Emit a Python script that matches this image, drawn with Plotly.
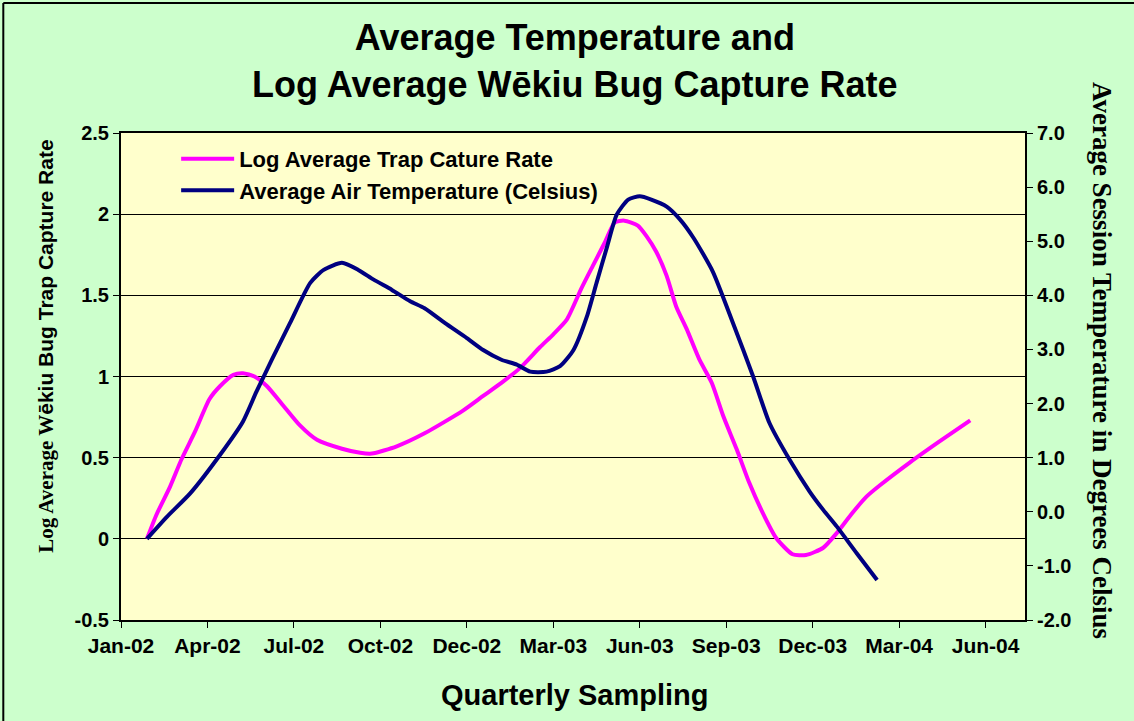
import plotly.graph_objects as go

# ---------------- data ----------------
trap_dates = [
    "2002-01-31", "2002-02-10", "2002-02-24", "2002-03-08", "2002-03-22", "2002-04-06",
    "2002-04-17", "2002-05-01", "2002-05-11", "2002-05-23", "2002-06-05", "2002-06-22",
    "2002-07-09", "2002-07-27", "2002-08-22", "2002-09-10", "2002-09-22", "2002-10-18",
    "2002-11-16", "2002-12-26", "2003-01-16", "2003-02-06", "2003-02-23", "2003-03-16",
    "2003-03-30", "2003-04-13", "2003-04-28", "2003-05-10", "2003-05-23", "2003-06-02",
    "2003-06-12", "2003-06-26", "2003-07-05", "2003-07-15", "2003-07-26", "2003-08-05",
    "2003-08-16", "2003-08-29", "2003-09-11", "2003-09-23", "2003-10-07", "2003-10-20",
    "2003-11-03", "2003-11-17", "2003-12-04", "2003-12-18", "2004-01-05", "2004-01-19",
    "2004-02-03", "2004-02-19", "2004-03-04", "2004-04-04", "2004-05-05", "2004-06-06",
]
trap_values = [
    0.00, 0.15, 0.32, 0.49, 0.66, 0.86,
    0.94, 1.01, 1.02, 1.00, 0.94, 0.82,
    0.70, 0.61, 0.555, 0.53, 0.525, 0.57,
    0.65, 0.79, 0.88, 0.97, 1.05, 1.18,
    1.26, 1.35, 1.54, 1.68, 1.83, 1.95,
    1.96, 1.93, 1.865, 1.77, 1.62, 1.43,
    1.29, 1.105, 0.96, 0.755, 0.55, 0.345,
    0.16, 0.005, -0.095, -0.10, -0.055, 0.035,
    0.15, 0.26, 0.33, 0.47, 0.60, 0.73,
]

temp_dates = [
    "2002-01-31", "2002-02-21", "2002-03-17", "2002-04-17", "2002-05-11", "2002-05-25",
    "2002-06-10", "2002-06-29", "2002-07-20", "2002-08-03", "2002-08-22", "2002-09-08",
    "2002-09-24", "2002-10-13", "2002-11-01", "2002-11-16", "2002-12-07", "2002-12-30",
    "2003-01-16", "2003-02-04", "2003-02-20", "2003-03-06", "2003-03-23", "2003-04-06",
    "2003-04-20", "2003-05-04", "2003-05-14", "2003-05-25", "2003-06-04", "2003-06-16",
    "2003-06-28", "2003-07-10", "2003-07-26", "2003-08-09", "2003-08-23", "2003-09-12",
    "2003-10-03", "2003-10-24", "2003-11-10", "2003-12-01", "2003-12-22", "2004-01-05",
    "2004-01-19", "2004-02-09", "2004-03-01",
]
temp_values = [
    -0.50, -0.09, 0.34, 1.05, 1.67, 2.22,
    2.81, 3.49, 4.23, 4.47, 4.60, 4.47,
    4.29, 4.10, 3.89, 3.76, 3.49, 3.21,
    2.99, 2.81, 2.72, 2.59, 2.59, 2.69,
    2.99, 3.61, 4.23, 4.90, 5.49, 5.77,
    5.83, 5.77, 5.64, 5.40, 5.06, 4.44,
    3.49, 2.50, 1.64, 0.96, 0.37, 0.035,
    -0.27, -0.77, -1.26,
]

x_tick_dates = [
    "2002-01-04", "2002-04-04", "2002-07-03", "2002-10-01", "2002-12-30", "2003-03-30",
    "2003-06-28", "2003-09-26", "2003-12-25", "2004-03-24", "2004-06-22",
]
x_tick_labels = [
    "Jan-02", "Apr-02", "Jul-02", "Oct-02", "Dec-02", "Mar-03",
    "Jun-03", "Sep-03", "Dec-03", "Mar-04", "Jun-04",
]
x_range = ["2002-01-04", "2004-08-02"]

left_tick_values = [-0.5, 0, 0.5, 1, 1.5, 2, 2.5]
left_tick_labels = ["-0.5", "0", "0.5", "1", "1.5", "2", "2.5"]
right_tick_values = [-2, -1, 0, 1, 2, 3, 4, 5, 6, 7]
right_tick_labels = ["-2.0", "-1.0", "0.0", "1.0", "2.0", "3.0", "4.0", "5.0", "6.0", "7.0"]

# ---------------- styling ----------------
SANS = "Liberation Sans, Arial, sans-serif"
SERIF = "Liberation Serif, Times New Roman, serif"
PAPER_BG = "#CCFFCC"
PLOT_BG = "#FFFFCC"

fig = go.Figure()
fig.add_trace(go.Scatter(
    x=trap_dates, y=trap_values, mode="lines", name="Log Average Trap Cature Rate",
    line=dict(color="#FF00FF", width=4, shape="spline", smoothing=0.6),
    yaxis="y",
))
fig.add_trace(go.Scatter(
    x=temp_dates, y=temp_values, mode="lines", name="Average Air Temperature (Celsius)",
    line=dict(color="#000080", width=4, shape="spline", smoothing=0.6),
    yaxis="y2",
))

tick_font = dict(family=SANS, size=20, color="black", weight="bold")

fig.update_layout(
    width=1134, height=721,
    margin=dict(l=121, r=109, t=133, b=101),
    paper_bgcolor=PAPER_BG, plot_bgcolor=PLOT_BG,
    showlegend=True,
    title=dict(
        text="Average Temperature and<br>Log Average Wēkiu Bug Capture Rate",
        font=dict(family=SANS, size=36, color="black", weight="bold"),
        x=0.502, xref="paper", xanchor="center",
        y=0.93, yref="container", yanchor="top",
    ),
    legend=dict(
        x=0.061, y=0.99, xanchor="left", yanchor="top",
        bgcolor="rgba(0,0,0,0)", borderwidth=0,
        font=dict(family=SANS, size=22, color="black", weight="bold"),
        itemwidth=53, traceorder="normal", tracegroupgap=0,
    ),
    xaxis=dict(
        type="date", range=x_range,
        tickvals=x_tick_dates, ticktext=x_tick_labels,
        ticks="outside", ticklen=6, tickwidth=1, tickcolor="black",
        tickfont=dict(family=SANS, size=21, color="black", weight="bold"),
        showline=True, linecolor="black", linewidth=2, mirror=True,
        showgrid=False, zeroline=False,
    ),
    yaxis=dict(
        range=[-0.5, 2.5],
        tickvals=left_tick_values, ticktext=left_tick_labels,
        ticks="outside", ticklen=6, tickwidth=1, tickcolor="black",
        tickfont=tick_font,
        showline=True, linecolor="black", linewidth=2,
        showgrid=True, gridcolor="black", gridwidth=1,
        zeroline=False,
    ),
    yaxis2=dict(
        range=[-2, 7], overlaying="y", side="right",
        tickvals=right_tick_values, ticktext=right_tick_labels,
        ticks="outside", ticklen=6, tickwidth=1, tickcolor="black",
        tickfont=tick_font,
        showline=True, linecolor="black", linewidth=2,
        showgrid=False, zeroline=False,
    ),
    annotations=[
        dict(
            text=("<span style=\"font-family:'Liberation Serif', 'Times New Roman', serif\">Log Average W</span>"
                  "ēkiu Bug Trap Capture Rate"),
            xref="paper", yref="paper", x=-0.0837, y=0.5616,
            xanchor="center", yanchor="middle", textangle=-90, showarrow=False,
            font=dict(family=SANS, size=21, color="black", weight="bold"),
        ),
        dict(
            text="Average Session Temperature in Degrees Celsius",
            xref="paper", yref="paper", x=1.0852, y=0.534,
            xanchor="center", yanchor="middle", textangle=90, showarrow=False,
            font=dict(family=SERIF, size=27, color="black", weight="bold"),
        ),
        dict(
            text="Quarterly Sampling",
            xref="paper", yref="paper", x=0.5024, y=-0.154,
            xanchor="center", yanchor="middle", showarrow=False,
            font=dict(family=SANS, size=29, color="black", weight="bold"),
        ),
    ],
    shapes=[
        dict(type="line", xref="paper", yref="paper",
             x0=-0.1302, x1=1.25, y0=1.267, y1=1.267,
             line=dict(color="black", width=2)),
        dict(type="line", xref="paper", yref="paper",
             x0=-0.1302, x1=-0.1302, y0=1.267, y1=-0.25,
             line=dict(color="black", width=2)),
    ],
)

fig.write_html("out.html", config={"displayModeBar": False},
               post_script="document.body.style.margin='0';")
